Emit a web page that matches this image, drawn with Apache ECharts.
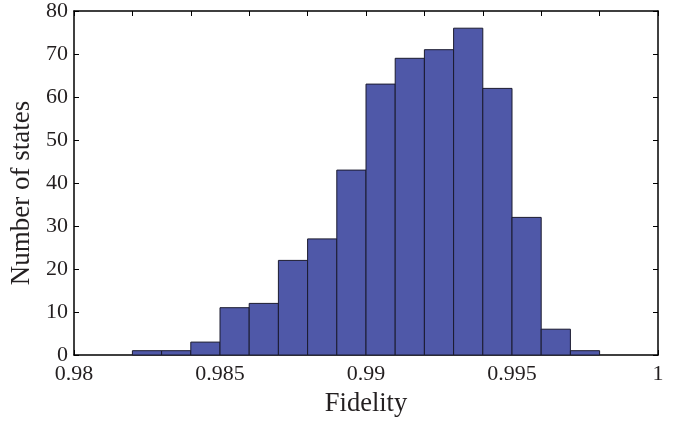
<!DOCTYPE html>
<html>
<head>
<meta charset="utf-8">
<script src="https://cdn.jsdelivr.net/npm/echarts@6/dist/echarts.min.js"></script>
<style>
  html, body { margin: 0; padding: 0; background: #fff; }
  #chart { width: 689px; height: 423px; }
</style>
</head>
<body>
<div id="chart"></div>
<script>
// histogram bins (left edges), width 0.001
const binStart = [0.982, 0.983, 0.984, 0.985, 0.986, 0.987, 0.988, 0.989,
                  0.990, 0.991, 0.992, 0.993, 0.994, 0.995, 0.996, 0.997];
const binWidth = 0.001;
const counts = [1, 1, 3, 11, 12, 22, 27, 43, 63, 69, 71, 76, 62, 32, 6, 1];
const xTickLabels = ["0.98", "0.985", "0.99", "0.995", "1"];

const font = "Liberation Serif";
const chart = echarts.init(document.getElementById("chart"));

const data = binStart.map((x, i) => [x, x + binWidth, counts[i]]);

const option = {
  animation: false,
  grid: { left: 72, top: 10, right: 31, bottom: 66 },
  xAxis: [
    {
      type: "value",
      min: 0.98,
      max: 1,
      interval: 0.005,
      position: "bottom",
      name: "Fidelity",
      nameLocation: "middle",
      nameGap: 36,
      nameTextStyle: { fontFamily: font, fontSize: 26.5, color: "#231f20" },
      axisLine: { show: true, onZero: false, lineStyle: { color: "#000", width: 1.5 } },
      axisTick: { show: true, inside: true, length: 5, lineStyle: { color: "#000" } },
      splitLine: { show: false },
      axisLabel: {
        margin: 8,
        fontFamily: font,
        fontSize: 22,
        color: "#231f20",
        formatter: (v) => xTickLabels[Math.round((v - 0.98) / 0.005)] || "",
      },
    },
    {
      type: "value",
      min: 0.98,
      max: 1,
      interval: 0.002,
      position: "top",
      axisLine: { show: true, onZero: false, lineStyle: { color: "#000", width: 1.5 } },
      axisTick: { show: true, inside: true, length: 5, lineStyle: { color: "#000" } },
      axisLabel: { show: false },
      splitLine: { show: false },
    },
  ],
  yAxis: [
    {
      type: "value",
      min: 0,
      max: 80,
      interval: 10,
      position: "left",
      name: "Number of states",
      nameLocation: "middle",
      nameGap: 39,
      nameTextStyle: { fontFamily: font, fontSize: 27, color: "#231f20", padding: [0, 20, 0, 0] },
      axisLine: { show: true, lineStyle: { color: "#000", width: 1.5 } },
      axisTick: { show: true, inside: true, length: 5, lineStyle: { color: "#000" } },
      splitLine: { show: false },
      axisLabel: { margin: 6, fontFamily: font, fontSize: 22, color: "#231f20" },
    },
    {
      type: "value",
      min: 0,
      max: 80,
      interval: 10,
      position: "right",
      axisLine: { show: true, lineStyle: { color: "#000", width: 1.5 } },
      axisTick: { show: true, inside: true, length: 5, lineStyle: { color: "#000" } },
      axisLabel: { show: false },
      splitLine: { show: false },
    },
  ],
  series: [
    {
      type: "custom",
      xAxisIndex: 0,
      yAxisIndex: 0,
      data: data,
      renderItem: function (params, api) {
        const p0 = api.coord([api.value(0), api.value(2)]);
        const p1 = api.coord([api.value(1), 0]);
        return {
          type: "rect",
          shape: { x: p0[0], y: p0[1], width: p1[0] - p0[0], height: p1[1] - p0[1] },
          style: { fill: "#4f58a8", stroke: "#1b1b2f", lineWidth: 1 },
        };
      },
    },
  ],
};

chart.setOption(option);
</script>
</body>
</html>
